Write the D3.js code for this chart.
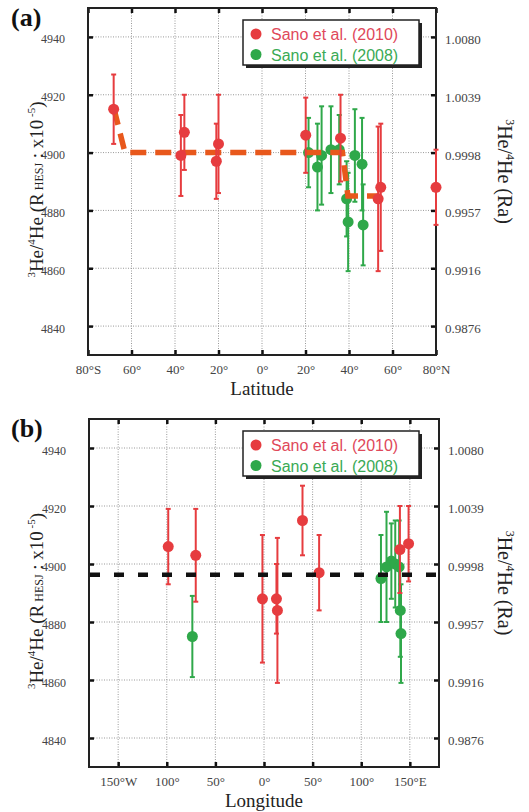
<!DOCTYPE html>
<html>
<head>
<meta charset="utf-8">
<title>3He/4He vs latitude and longitude</title>
<script src="https://cdn.jsdelivr.net/npm/d3@7"></script>
<style>
  body { margin: 0; background: #fff; }
  svg { display: block; }
</style>
</head>
<body>
<script>
// ---- data ----
var yTicks = [4840, 4860, 4880, 4900, 4920, 4940]
var raLabels = ["0.9876", "0.9916", "0.9957", "0.9998", "1.0039", "1.0080"]

var latTicks = [-80, -60, -40, -20, 0, 20, 40, 60, 80]
var latLabels = ["80°S", "60°", "40°", "20°", "0°", "20°", "40°", "60°", "80°N"]
var lonTicks = [-150, -100, -50, 0, 50, 100, 150]
var lonLabels = ["150°W", "100°", "50°", "0°", "50°", "100°", "150°E"]

// [position, value, error]
var sano2010Lat = [[-68.2, 4915, 12], [-35.7, 4907, 13], [-37.3, 4899, 14], [-20, 4903, 17],
  [-21, 4897, 13], [20.1, 4906, 13], [36.1, 4905, 15], [53.4, 4884, 25], [54.6, 4888, 22], [80, 4888, 13]]
var sano2008Lat = [[21.4, 4900, 12], [25.5, 4895, 15], [27.4, 4899, 17], [31.7, 4901, 15],
  [35.5, 4901, 12], [38.9, 4884, 13], [39.6, 4876, 17], [42.7, 4899, 16], [46, 4896, 16], [46.5, 4875, 14]]
var trendLat = [[-68, 4915], [-63, 4900], [37, 4900], [39.5, 4885], [54, 4885]]

var sano2010Lon = [[-98.5, 4906, 13], [-70.2, 4903, 16], [-1.6, 4888, 22], [12.8, 4888, 12],
  [13.8, 4884, 25], [39.6, 4915, 12], [56.7, 4897, 13], [139.8, 4905, 15], [148.7, 4907, 13]]
var sano2008Lon = [[-73.7, 4875, 14], [120.3, 4895, 15], [126, 4899, 19], [131, 4901, 13],
  [135, 4900, 15], [139, 4899, 16], [140.2, 4884, 16], [140.9, 4876, 17]]
var meanLon = 4896.3

var legendNames = ["Sano et al. (2010)", "Sano et al. (2008)"]

var RED = "#e63c3f", GREEN = "#2fa84a"
var SERIF = "Liberation Serif, Times New Roman, serif"

var svg = d3.select("body").append("svg").attr("width", 529).attr("height", 812)

function panel(o) {
  var g = svg.append("g")
  var x = d3.scaleLinear().domain(o.xDomain).range([o.left, o.right])
  var y = d3.scaleLinear().domain([4830, 4950]).range([o.bottom, o.top])

  // grid
  g.selectAll(".gx").data(o.xTicks).enter().append("line")
    .attr("x1", d => x(d)).attr("x2", d => x(d)).attr("y1", o.top).attr("y2", o.bottom)
    .attr("stroke", "#999").attr("stroke-dasharray", "1,1.5")
  g.selectAll(".gy").data(yTicks).enter().append("line")
    .attr("y1", d => y(d)).attr("y2", d => y(d)).attr("x1", o.left).attr("x2", o.right)
    .attr("stroke", "#999").attr("stroke-dasharray", "1,1.5")

  // axes with inward ticks
  var ax = g.append("g").attr("transform", "translate(0," + o.bottom + ")")
    .call(d3.axisBottom(x).tickValues(o.xTicks).tickSize(-5).tickPadding(10)
      .tickFormat((d, i) => o.xLabels[i]))
  ax.selectAll("text").attr("font-size", 13)
  g.append("g").attr("transform", "translate(0," + o.top + ")")
    .call(d3.axisTop(x).tickValues(o.xTicks).tickSize(-5).tickFormat(""))
  var ay = g.append("g").attr("transform", "translate(" + o.left + ",0)")
    .call(d3.axisLeft(y).tickValues(yTicks).tickSize(-5).tickPadding(23).tickFormat(d3.format("d")))
  ay.selectAll("text").attr("font-size", 12).attr("dy", "0.5em")
  var ar = g.append("g").attr("transform", "translate(" + o.right + ",0)")
    .call(d3.axisRight(y).tickValues(yTicks).tickSize(-5).tickPadding(9)
      .tickFormat((d, i) => raLabels[i]))
  ar.selectAll("text").attr("font-size", 13).attr("dy", "0.5em")
  g.selectAll(".domain").remove()
  g.selectAll(".tick line").attr("stroke", "#111").attr("stroke-width", 2.5)
  g.selectAll(".tick text").attr("font-family", SERIF).attr("fill", "#444")

  g.append("rect").attr("x", o.left).attr("y", o.top)
    .attr("width", o.right - o.left).attr("height", o.bottom - o.top)
    .attr("fill", "none").attr("stroke", "#222").attr("stroke-width", 2)

  function series(data, color) {
    var s = g.append("g").selectAll("g").data(data).enter().append("g")
      .attr("stroke", color).attr("fill", color).attr("stroke-width", 2)
    s.append("line").attr("x1", d => x(d[0])).attr("x2", d => x(d[0]))
      .attr("y1", d => y(d[1] - d[2])).attr("y2", d => y(d[1] + d[2]))
    s.append("line").attr("x1", d => x(d[0]) - 2.5).attr("x2", d => x(d[0]) + 2.5)
      .attr("y1", d => y(d[1] + d[2])).attr("y2", d => y(d[1] + d[2]))
    s.append("line").attr("x1", d => x(d[0]) - 2.5).attr("x2", d => x(d[0]) + 2.5)
      .attr("y1", d => y(d[1] - d[2])).attr("y2", d => y(d[1] - d[2]))
    s.append("circle").attr("cx", d => x(d[0])).attr("cy", d => y(d[1])).attr("r", 5.5)
      .attr("stroke", "none")
  }

  function trend() {
    if (o.trend) {
      g.append("path").datum(o.trend)
        .attr("d", d3.line().x(d => x(d[0])).y(d => y(d[1])))
        .attr("fill", "none").attr("stroke", "#e8581c").attr("stroke-width", 5.5)
        .attr("stroke-dasharray", "16,9")
    } else {
      g.append("line").attr("x1", o.left + 1).attr("x2", o.right)
        .attr("y1", y(o.mean)).attr("y2", y(o.mean))
        .attr("stroke", "#111").attr("stroke-width", 4.5).attr("stroke-dasharray", "10,14")
    }
  }

  series(o.green, GREEN)
  if (o.trend) { trend(); series(o.red, RED) }
  else { series(o.red, RED); trend() }

  // legend
  var lx = 243, ly = o.top + 12
  g.append("rect").attr("x", lx + 3).attr("y", ly + 3).attr("width", 176).attr("height", 45).attr("fill", "#222")
  g.append("rect").attr("x", lx).attr("y", ly).attr("width", 176).attr("height", 45)
    .attr("fill", "#fff").attr("stroke", "#222").attr("stroke-width", 1.5)
  var lc = [RED, GREEN], tc = ["#e0485a", "#3aaa55"]
  legendNames.forEach(function (n, i) {
    g.append("circle").attr("cx", lx + 13).attr("cy", ly + 14 + i * 20.5).attr("r", 5.5).attr("fill", lc[i])
    g.append("text").attr("x", lx + 28).attr("y", ly + 20 + i * 20.5)
      .attr("font-family", "Liberation Sans, Arial, sans-serif").attr("font-size", 16)
      .attr("fill", tc[i]).text(n)
  })

  // panel label
  g.append("text").attr("x", 11).attr("y", o.top + 18).attr("font-family", SERIF)
    .attr("font-weight", "bold").attr("font-size", 26).attr("fill", "#111").text(o.label)

  // x title
  g.append("text").attr("x", (o.left + o.right) / 2).attr("y", o.bottom + 40)
    .attr("text-anchor", "middle").attr("font-family", SERIF)
    .attr("font-size", 19).attr("fill", "#222").text(o.xTitle)

  // left title
  var cy = (o.top + o.bottom) / 2 + 8
  var t = g.append("text").attr("transform", "translate(43," + cy + ") rotate(-90)")
    .attr("text-anchor", "middle").attr("font-family", SERIF)
    .attr("font-size", 19).attr("fill", "#222")
  t.append("tspan").attr("font-size", 11).attr("dy", -8).text("3")
  t.append("tspan").attr("dy", 8).text("He/")
  t.append("tspan").attr("font-size", 11).attr("dy", -8).text("4")
  t.append("tspan").attr("dy", 8).text("He (R")
  t.append("tspan").attr("font-size", 12).text(" HESJ")
  t.append("tspan").text(" : x10")
  t.append("tspan").attr("font-size", 11).attr("dy", -8).text(" -5")
  t.append("tspan").attr("dy", 8).text(")")

  // right title
  var r = g.append("text").attr("transform", "translate(498," + (cy - 18) + ") rotate(90)")
    .attr("text-anchor", "middle").attr("font-family", SERIF)
    .attr("font-size", 20).attr("fill", "#222")
  r.append("tspan").attr("font-size", 12).attr("dy", -8).text("3")
  r.append("tspan").attr("dy", 8).text("He/")
  r.append("tspan").attr("font-size", 12).attr("dy", -8).text("4")
  r.append("tspan").attr("dy", 8).text("He (Ra)")
}

panel({ left: 88, right: 436, top: 8, bottom: 355, xDomain: [-80, 80],
  xTicks: latTicks, xLabels: latLabels, xTitle: "Latitude", label: "(a)",
  red: sano2010Lat, green: sano2008Lat, trend: trendLat })

panel({ left: 89, right: 439, top: 419, bottom: 767, xDomain: [-180, 180],
  xTicks: lonTicks, xLabels: lonLabels, xTitle: "Longitude", label: "(b)",
  red: sano2010Lon, green: sano2008Lon, mean: meanLon })
</script>
</body>
</html>
